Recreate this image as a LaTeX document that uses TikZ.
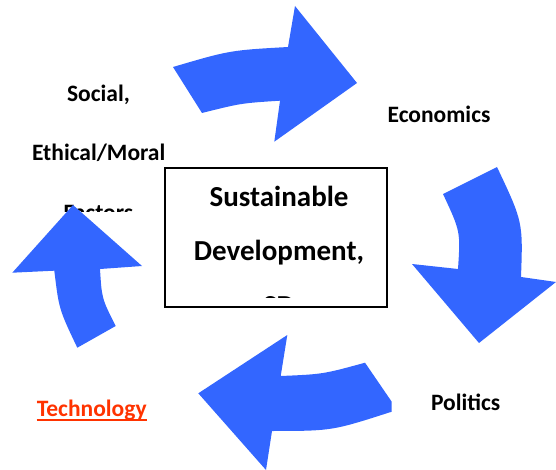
\documentclass[tikz,border=0pt]{standalone}
\usepackage{fontspec}
\setmainfont{Carlito}
\definecolor{arrowblue}{RGB}{51,102,255}
\definecolor{techred}{RGB}{255,51,0}
\begin{document}
\begin{tikzpicture}[x=1pt,y=-1pt,
  lbl/.style={font=\bfseries\fontsize{23.5}{28}\selectfont, inner sep=0pt, anchor=base},
  boxtxt/.style={font=\bfseries\fontsize{29}{34}\selectfont, inner sep=0pt, anchor=base},
  bigarrow/.style={fill=arrowblue, draw=none},
  sdbox/.style={draw=black, line width=2pt, fill=white, inner sep=0pt, minimum width=222pt, minimum height=139pt}]
\useasboundingbox (0,0) rectangle (556,470);

% labels
\node[lbl] (social) at (98.5,101.7) {Social,};
\node[lbl] (ethical) at (98.7,160.7) {Ethical/Moral};
\begin{scope}
  \clip (0,0) rectangle (165,211.7);
  \node[lbl] (factors) at (98.5,220.5) {Factors};
\end{scope}
\node[lbl] (econ) at (439,122.7) {Economics};
\node[lbl] (politics) at (465.7,410) {Politics};
\node[lbl, text=techred] (tech) at (91.7,416) {Technology};
\draw[techred, line width=1.8pt] ([yshift=-4pt]tech.base west) -- ([yshift=-4pt]tech.base east);

% curved arrows
\fill[bigarrow] (173,67) .. controls (229.8,50.3) .. (288,47) -- (295,6) -- (357,83)
  -- (274.3,141.7) -- (280,100.7) .. controls (241,103.2) .. (202,113) -- cycle;
\fill[bigarrow] (497,167) .. controls (523,222) .. (521,277) -- (556,282) -- (479,343)
  -- (412,264) -- (458,269) .. controls (460.5,231.5) .. (443,194) -- cycle;
\fill[bigarrow] (198.3,393.3) -- (287.3,335) -- (280.7,376) .. controls (323,374.2) .. (365,362.7)
  -- (391.7,401.7) -- (391.7,411.7) .. controls (332.1,430.9) .. (272,431) -- (266,470) -- cycle;
\fill[bigarrow] (73,205) -- (142,266) -- (100,269) .. controls (101.8,298.5) .. (115.7,326)
  -- (77.3,347.7) .. controls (59,309.3) .. (54.3,270.7) -- (12.3,272.7) -- cycle;

% centre box
\node[sdbox] (sd) at (276.4,237.2) {};
\node[boxtxt] (sust) at (279,207) {Sustainable};
\node[boxtxt] (dev) at (279,260) {Development,};
\begin{scope}
  \clip (167,169) rectangle (386,297);
  \node[boxtxt] (sdabbr) at (279,315.5) {SD};
\end{scope}
\end{tikzpicture}
\end{document}
